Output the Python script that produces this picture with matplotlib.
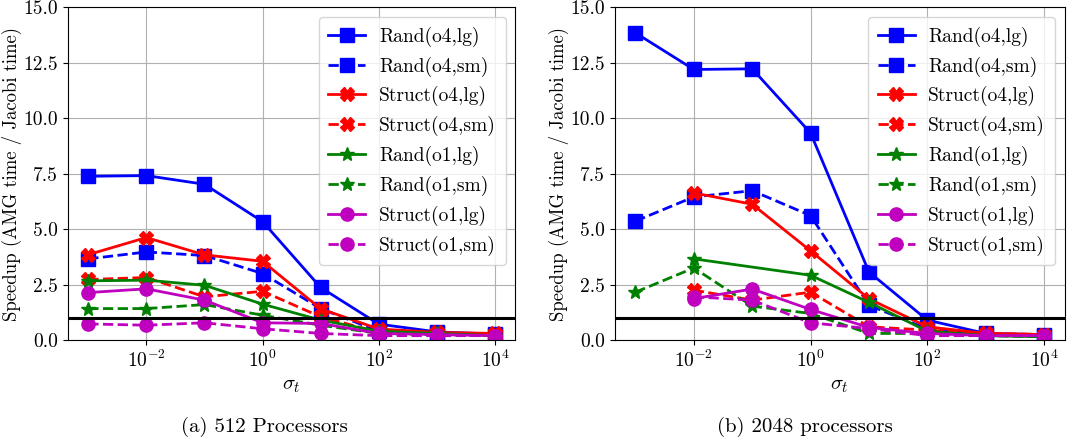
import matplotlib
matplotlib.use("Agg")
import numpy as np
from matplotlib import pyplot as plt
from matplotlib.ticker import NullLocator

plt.rcParams["font.family"] = "serif"
plt.rcParams["font.serif"] = ["cmr10", "DejaVu Serif"]
plt.rcParams["mathtext.fontset"] = "cm"
plt.rcParams["axes.formatter.use_mathtext"] = True

sigma = [1e-3, 1e-2, 1e-1, 1e0, 1e1, 1e2, 1e3, 1e4]
sigma_no_first = [1e-2, 1e-1, 1e0, 1e1, 1e2, 1e3, 1e4]
sigma_skip = [1e-2, 1e0, 1e1, 1e2, 1e3, 1e4]

labels = ["Rand(o4,lg)", "Rand(o4,sm)", "Struct(o4,lg)", "Struct(o4,sm)",
          "Rand(o1,lg)", "Rand(o1,sm)", "Struct(o1,lg)", "Struct(o1,sm)"]

# 512 processors
p512_rand_o4_lg = [7.38, 7.41, 7.02, 5.34, 2.37, 0.72, 0.37, 0.27]
p512_rand_o4_sm = [3.66, 3.97, 3.81, 3.00, 1.42, 0.40, 0.30, 0.25]
p512_struct_o4_lg = [3.85, 4.62, 3.84, 3.55, 1.41, 0.50, 0.35, 0.30]
p512_struct_o4_sm = [2.73, 2.82, 1.95, 2.20, 1.05, 0.35, 0.30, 0.25]
p512_rand_o1_lg = [2.67, 2.70, 2.47, 1.62, 0.90, 0.40, 0.30, 0.20]
p512_rand_o1_sm = [1.42, 1.42, 1.60, 1.12, 0.67, 0.30, 0.25, 0.20]
p512_struct_o1_lg = [2.14, 2.31, 1.80, 0.78, 0.75, 0.30, 0.25, 0.20]
p512_struct_o1_sm = [0.73, 0.67, 0.78, 0.51, 0.30, 0.20, 0.20, 0.20]

# 2048 processors
p2048_rand_o4_lg = [13.84, 12.19, 12.22, 9.33, 3.07, 0.90, 0.30, 0.25]
p2048_rand_o4_sm = [5.36, 6.45, 6.73, 5.61, 1.57, 0.50, 0.25, 0.20]
p2048_struct_o4_lg = [6.63, 6.12, 4.02, 1.86, 0.60, 0.30, 0.25]
p2048_struct_o4_sm = [2.25, 1.80, 2.16, 0.60, 0.45, 0.30, 0.25]
p2048_rand_o1_lg = [3.66, 2.92, 1.70, 0.40, 0.20, 0.15]
p2048_rand_o1_sm = [2.16, 3.25, 1.53, 1.20, 0.30, 0.30, 0.20, 0.15]
p2048_struct_o1_lg = [1.87, 2.30, 1.38, 0.57, 0.30, 0.20, 0.20]
p2048_struct_o1_sm = [1.95, 1.80, 0.78, 0.52, 0.20, 0.20, 0.20]

styles = [("b", "s", "-"), ("b", "s", "--"), ("r", "X", "-"), ("r", "X", "--"),
          ("g", "*", "-"), ("g", "*", "--"), ("m", "o", "-"), ("m", "o", "--")]

left_data = [(sigma, p512_rand_o4_lg), (sigma, p512_rand_o4_sm),
             (sigma, p512_struct_o4_lg), (sigma, p512_struct_o4_sm),
             (sigma, p512_rand_o1_lg), (sigma, p512_rand_o1_sm),
             (sigma, p512_struct_o1_lg), (sigma, p512_struct_o1_sm)]
right_data = [(sigma, p2048_rand_o4_lg), (sigma, p2048_rand_o4_sm),
              (sigma_no_first, p2048_struct_o4_lg), (sigma_no_first, p2048_struct_o4_sm),
              (sigma_skip, p2048_rand_o1_lg), (sigma, p2048_rand_o1_sm),
              (sigma_no_first, p2048_struct_o1_lg), (sigma_no_first, p2048_struct_o1_sm)]


def draw(ax, data):
    for (x, y), (c, m, ls), lab in zip(data, styles, labels):
        ms = 10.5 if m == "*" else 9.5
        ax.plot(x, y, color=c, marker=m, linestyle=ls, linewidth=2,
                markersize=ms, label=lab)
    ax.axhline(1.0, color="k", linewidth=2.2)
    ax.set_xscale("log")
    ax.set_xticks([1e-2, 1e0, 1e2, 1e4])
    ax.xaxis.set_minor_locator(NullLocator())
    ax.set_ylim(0, 15)
    ax.set_yticks([0, 2.5, 5, 7.5, 10, 12.5, 15])
    ax.set_yticklabels(["0.0", "2.5", "5.0", "7.5", "10.0", "12.5", "15.0"])
    ax.grid(True, color="#b0b0b0", linewidth=0.8)
    ax.tick_params(labelsize=14)
    ax.set_xlabel(r"$\sigma_t$", fontsize=15)
    ax.set_ylabel("Speedup (AMG time / Jacobi time)", fontsize=13.5)
    ax.yaxis.set_label_coords(-0.102, 0.5)
    ax.legend(loc="upper right", fontsize=14, handlelength=1.9,
              handletextpad=0.7, labelspacing=0.5, borderpad=0.5)


fig = plt.figure(figsize=(10.78, 4.44), dpi=100)
ax1 = fig.add_axes([0.063, 0.234, 0.415, 0.750])
ax2 = fig.add_axes([0.5705, 0.234, 0.417, 0.750])
draw(ax1, left_data)
draw(ax2, right_data)

fig.text(0.245, 0.028, "(a) 512 Processors", ha="center", fontsize=15)
fig.text(0.747, 0.028, "(b) 2048 processors", ha="center", fontsize=15)

fig.savefig("out.png", dpi=100)
